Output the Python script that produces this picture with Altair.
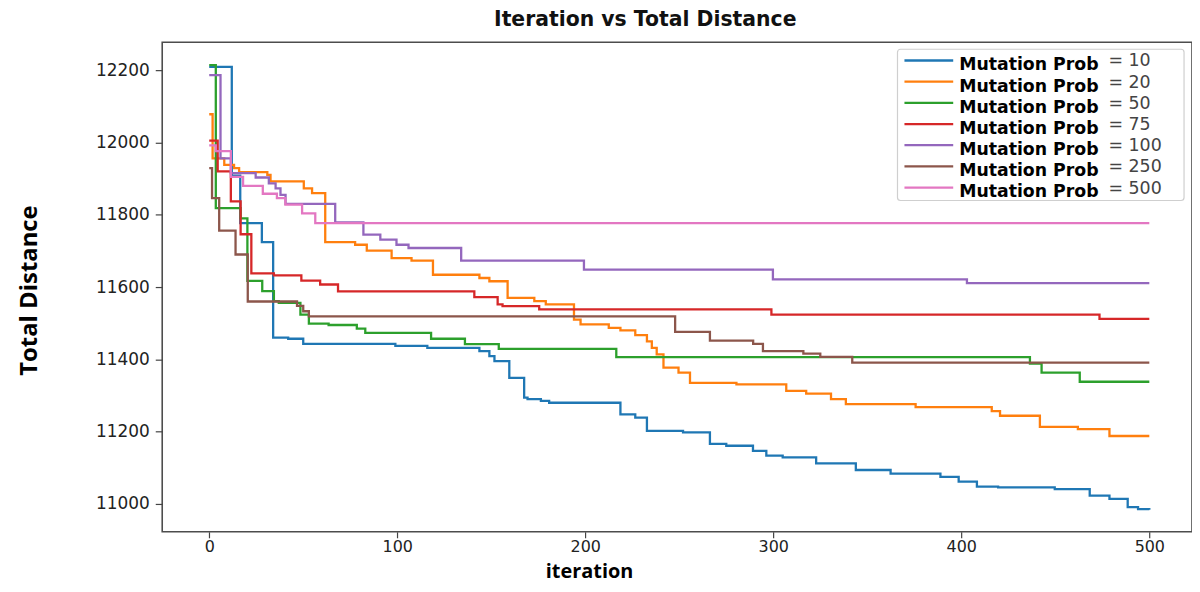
import altair as alt
import pandas as pd

# ---- data ----
series_names = ["10", "20", "50", "75", "100", "250", "500"]
series_colors = ["#1f77b4", "#ff7f0e", "#2ca02c", "#d62728", "#9467bd", "#8c564b", "#e377c2"]

it_10 = [0, 12, 16.5, 28, 34, 42, 50, 99, 116, 143.7, 149, 151.7, 159.6, 167.5, 169.3, 176.4, 180.8,
         218.7, 226.6, 232.8, 252, 266.3, 275, 289.2, 296.3, 305, 322.8, 343.9, 362.4, 388.9, 398.6,
         408.3, 419.6, 449.7, 468.3, 478.8, 488.5, 494, 500]
val_10 = [12209, 11908, 11777, 11724, 11460, 11457, 11443, 11437, 11432, 11423, 11409, 11395, 11349,
          11294, 11290, 11285, 11280, 11248, 11239, 11202, 11198, 11166, 11161, 11147, 11134, 11129,
          11112, 11094, 11084, 11075, 11062, 11048, 11046, 11041, 11023, 11014, 10991, 10986, 10984]

it_20 = [0, 1.8, 8, 13.2, 15.9, 30.9, 32.6, 50.3, 54.7, 61.7, 77.6, 83.8, 97, 107.6, 119, 143.7, 149,
         158.7, 172.9, 179, 194, 197.5, 212.5, 218.7, 226.6, 232.8, 235.4, 238, 241.6, 249.6, 255.7,
         280.4, 306.9, 317.5, 330.7, 338.6, 375.7, 416.2, 420.6, 441.8, 462, 478.8, 500]
val_20 = [12078, 11956, 11938, 11929, 11918, 11910, 11892, 11873, 11860, 11724, 11717, 11701, 11680,
          11673, 11634, 11625, 11616, 11570, 11561, 11552, 11510, 11497, 11487, 11480, 11467, 11450,
          11432, 11414, 11377, 11363, 11335, 11331, 11313, 11305, 11290, 11276, 11268, 11257, 11244,
          11213, 11207, 11188, 11188]

it_50 = [0, 3.5, 16.7, 20.3, 28.2, 34.4, 37, 48.5, 53, 63.5, 78.5, 83, 118, 136, 154, 216.5, 436.5,
         442.7, 463, 500]
val_50 = [12214, 11818, 11790, 11617, 11589, 11561, 11556, 11524, 11499, 11495, 11485, 11473, 11457,
          11442, 11429, 11406, 11388, 11363, 11338, 11338]

it_75 = [0, 4.5, 11.5, 16.7, 22.4, 34.4, 49, 59, 68.5, 141, 153.4, 156, 175.5, 299, 473.5, 500]
val_75 = [12005, 11920, 11837, 11746, 11638, 11632, 11618, 11607, 11588, 11572, 11552, 11547, 11538,
          11524, 11512, 11512]

it_100 = [0, 6, 11.5, 24.7, 31.7, 35.3, 37.9, 40.6, 67, 82, 91, 99.6, 106, 134, 199.3, 299.8, 403, 500]
val_100 = [12186, 11956, 11915, 11903, 11887, 11873, 11855, 11830, 11779, 11745, 11731, 11717, 11708,
           11673, 11648, 11621, 11611, 11611]

it_250 = [0, 1.5, 5.3, 14, 20.5, 46.7, 50, 53, 247.8, 266.3, 289.3, 294.5, 316, 325, 342, 500]
val_250 = [11929, 11846, 11756, 11690, 11560, 11548, 11533, 11519, 11476, 11452, 11443, 11423, 11416,
           11407, 11391, 11391]

it_500 = [0, 3.5, 11.5, 18, 28.5, 36, 40.5, 49.4, 56.4, 500]
val_500 = [11992, 11976, 11905, 11880, 11858, 11846, 11828, 11804, 11777, 11777]

x_ticks = [0, 100, 200, 300, 400, 500]
y_ticks = [11000, 11200, 11400, 11600, 11800, 12000, 12200]

legend_prefix = "Mutation Prob"
legend_suffix = ["= 10", "= 20", "= 50", "= 75", "= 100", "= 250", "= 500"]

# ---- build tables ----
all_iters = [it_10, it_20, it_50, it_75, it_100, it_250, it_500]
all_vals = [val_10, val_20, val_50, val_75, val_100, val_250, val_500]
rows = []
for k, (name, its, vals) in enumerate(zip(series_names, all_iters, all_vals)):
    for i, v in zip(its, vals):
        rows.append({"series": name, "order": k, "iteration": i, "distance": v})
df = pd.DataFrame(rows)

leg = pd.DataFrame({
    "series": series_names,
    "row": list(range(len(series_names))),
    "prefix": [legend_prefix] * len(series_names),
    "suffix": legend_suffix,
})

color_scale = alt.Scale(domain=series_names, range=series_colors)

lines = alt.Chart(df).mark_line(interpolate="step-after", strokeWidth=2.3).encode(
    x=alt.X("iteration:Q",
            scale=alt.Scale(domain=[-25, 522.7], nice=False, zero=False),
            axis=alt.Axis(values=x_ticks, format="d", title="iteration", grid=False, domain=False,
                          tickSize=6, tickColor="#444", tickWidth=1.2, labelPadding=1,
                          labelFont="DejaVu Sans", labelFontSize=16, labelColor="#222",
                          titleFont="Open Sans", titleFontSize=20, titleFontWeight="bold",
                          titleColor="#000", titleX=429, titleY=39.5, titleBaseline="middle",
                          titleAlign="center")),
    y=alt.Y("distance:Q",
            scale=alt.Scale(domain=[10923, 12277], nice=False, zero=False),
            axis=alt.Axis(values=y_ticks, format="d", title="Total Distance", grid=False,
                          domain=False, tickSize=7, tickColor="#444", tickWidth=1.2,
                          labelPadding=6, labelFont="DejaVu Sans", labelFontSize=17,
                          labelColor="#222", titleFont="Open Sans", titleFontSize=24,
                          titleFontWeight="bold", titleColor="#000", titleX=-133, titleY=249,
                          titleBaseline="middle", titleAlign="center", titleAngle=-90)),
    color=alt.Color("series:N", scale=color_scale, legend=None),
    detail="order:O",
)

leg_y = alt.Y("row:Q", scale=alt.Scale(domain=[0, 6], range=[18.3, 146]), axis=None)

leg_box = alt.Chart(leg).transform_filter("datum.row == 0").mark_rect(
    fill="white", fillOpacity=0.85, stroke="#cfcfcf", strokeWidth=1.2, cornerRadius=3
).encode(x=alt.value(739), x2=alt.value(1027), y=alt.value(7), y2=alt.value(159))

leg_lines = alt.Chart(leg).mark_rule(strokeWidth=2.3).encode(
    x=alt.value(746), x2=alt.value(795), y=leg_y,
    color=alt.Color("series:N", scale=color_scale, legend=None),
)

leg_text = alt.Chart(leg).mark_text(
    align="left", baseline="middle", dy=5, font="DejaVu Sans", fontSize=17.4,
    fontWeight="bold", color="#000"
).encode(x=alt.value(801), y=leg_y, text="prefix:N")

leg_suffix = alt.Chart(leg).mark_text(
    align="left", baseline="middle", dy=1, font="DejaVu Sans", fontSize=17.5, color="#444"
).encode(x=alt.value(951), y=leg_y, text="suffix:N")

chart = alt.layer(lines, leg_box, leg_lines, leg_text, leg_suffix).resolve_scale(
    y="independent"
).properties(
    width=1035, height=492,
    title=alt.TitleParams("Iteration vs Total Distance", font="DejaVu Sans", fontSize=20.5,
                          fontWeight="bold", color="#111", anchor="middle", dx=-32, offset=12),
    autosize=alt.AutoSizeParams(type="none"),
    padding={"left": 155, "top": 33, "right": 0, "bottom": 51},
).configure(background="white").configure_view(stroke="#4d4d4d", strokeWidth=1.6)

chart.save("out.html", embed_options={"renderer": "svg", "actions": False})
